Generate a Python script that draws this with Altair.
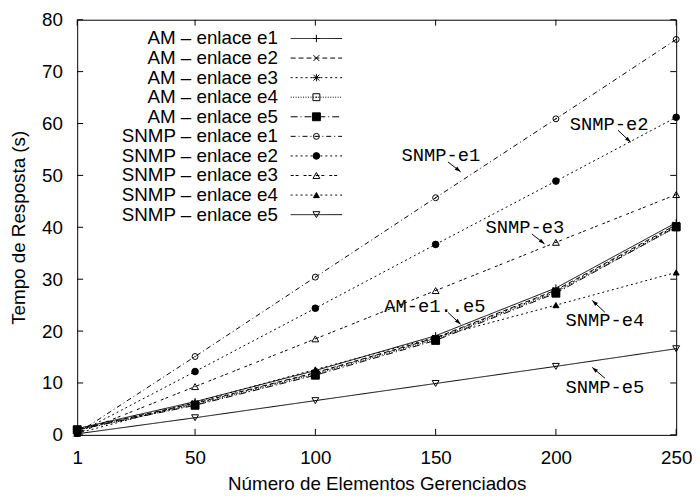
import math
import altair as alt
import pandas as pd

# ---------------- data ----------------
x_values = [1, 50, 100, 150, 200, 250]

series_names = [
    "AM – enlace e1", "AM – enlace e2", "AM – enlace e3", "AM – enlace e4", "AM – enlace e5",
    "SNMP – enlace e1", "SNMP – enlace e2", "SNMP – enlace e3", "SNMP – enlace e4", "SNMP – enlace e5",
]
am_e1 = [1.2, 6.4, 12.4, 19.1, 28.3, 40.9]
am_e2 = [1.1, 6.1, 12.0, 18.7, 27.9, 40.5]
am_e3 = [1.0, 6.0, 11.9, 18.6, 27.7, 40.3]
am_e4 = [0.9, 5.8, 11.7, 18.4, 27.5, 40.0]
am_e5 = [1.0, 5.7, 11.5, 18.2, 27.3, 40.1]
snmp_e1 = [0.3, 15.1, 30.4, 45.7, 60.9, 76.2]
snmp_e2 = [0.3, 12.2, 24.4, 36.7, 48.9, 61.2]
snmp_e3 = [0.3, 9.3, 18.5, 27.8, 37.1, 46.3]
snmp_e4 = [0.3, 6.3, 12.6, 18.8, 25.0, 31.3]
snmp_e5 = [0.2, 3.3, 6.6, 9.9, 13.2, 16.6]
series_values = [am_e1, am_e2, am_e3, am_e4, am_e5, snmp_e1, snmp_e2, snmp_e3, snmp_e4, snmp_e5]

y_ticks = [0, 10, 20, 30, 40, 50, 60, 70, 80]

# annotations (data coordinates)
note_texts = ["SNMP-e1", "SNMP-e2", "SNMP-e3", "AM-e1..e5", "SNMP-e4", "SNMP-e5"]
note_x = [152.2, 222.1, 187.1, 149.7, 220.4, 220.4]
note_y = [53.9, 59.8, 40.0, 24.8, 22.1, 9.3]
arrow_x1 = [155.1, 225.8, 190.0, 155.1, 220.4, 220.4]
arrow_y1 = [52.6, 58.7, 38.7, 23.6, 23.6, 10.9]
arrow_x2 = [160.4, 231.1, 195.3, 160.4, 215.1, 215.1]
arrow_y2 = [50.7, 56.4, 36.8, 21.3, 25.9, 13.0]

# ---------------- layout / style ----------------
W, H = 606, 420
XD = [1, 250]
YD = [0, 80]
xs = alt.Scale(domain=XD, nice=False, zero=False)
ys = alt.Scale(domain=YD, nice=False, zero=False)
SANS = "Liberation Sans"
MONO = "Liberation Mono"
FS = 19

XA = alt.Axis(
    values=x_values, title="Número de Elementos Gerenciados", ticks=False, domain=False,
    grid=False, labelPadding=14, titlePadding=7, labelFontSize=FS, titleFontSize=FS,
    labelFont=SANS, titleFont=SANS, titleFontWeight="normal", labelColor="black",
    titleColor="black", labelFlush=False)
YA = alt.Axis(
    values=y_ticks, title="Tempo de Resposta (s)", ticks=False, domain=False,
    grid=False, labelPadding=15, titlePadding=13, labelFontSize=FS, titleFontSize=FS,
    labelFont=SANS, titleFont=SANS, titleFontWeight="normal", labelColor="black",
    titleColor="black", labelFlush=False)


def X(field):
    return alt.X(field, scale=xs, axis=XA)


def Y(field):
    return alt.Y(field, scale=ys, axis=YA)


def px_x(px):
    return XD[0] + px / W * (XD[1] - XD[0])


def px_y(py):
    return YD[1] - py / H * (YD[1] - YD[0])


PLUS = "M-1,0L1,0M0,-1L0,1"
CROSS = "M-0.8,-0.8L0.8,0.8M-0.8,0.8L0.8,-0.8"
STAR = PLUS + CROSS
styles = [
    dict(dash=[1, 0], shape=PLUS, fill=False, size=55),
    dict(dash=[5, 3], shape=CROSS, fill=False, size=55),
    dict(dash=[2, 3], shape=STAR, fill=False, size=55),
    dict(dash=[1, 1.5], shape="square", fill=False, size=49, dot=True),
    dict(dash=[7, 3, 1, 3], shape="square", fill=True, size=64),
    dict(dash=[5, 3, 1, 3], shape="circle", fill=False, size=36, dot=True),
    dict(dash=[2, 3], shape="circle", fill=True, size=45),
    dict(dash=[3, 2, 3, 5], shape="triangle-up", fill=False, size=48, dot=True),
    dict(dash=[2, 3], shape="triangle-up", fill=True, size=36),
    dict(dash=[1, 0], shape="triangle-down", fill=False, size=48, dot=True),
]

layers = []

# inward ticks on all four sides
xt = pd.DataFrame({"x": x_values})
yt = pd.DataFrame({"y": y_ticks})
TL = 6
layers.append(alt.Chart(xt).mark_rule(color="black", strokeWidth=1).encode(
    x=X("x:Q"), y=alt.value(H), y2=alt.value(H - TL)))
layers.append(alt.Chart(xt).mark_rule(color="black", strokeWidth=1).encode(
    x=X("x:Q"), y=alt.value(0), y2=alt.value(TL)))
layers.append(alt.Chart(yt).mark_rule(color="black", strokeWidth=1).encode(
    y=Y("y:Q"), x=alt.value(0), x2=alt.value(TL)))
layers.append(alt.Chart(yt).mark_rule(color="black", strokeWidth=1).encode(
    y=Y("y:Q"), x=alt.value(W), x2=alt.value(W - TL)))


def point_layer(df, st):
    filled = st["fill"]
    mk = alt.Chart(df).mark_point(
        shape=st["shape"], size=st["size"], filled=filled, opacity=1,
        stroke="black", strokeWidth=1, fill="black" if filled else "transparent")
    out = [mk.encode(x=X("x:Q"), y=Y("y:Q"))]
    if st.get("dot"):
        out.append(alt.Chart(df).mark_point(shape="circle", size=2, filled=True, opacity=1,
                                            color="black").encode(x=X("x:Q"), y=Y("y:Q")))
    return out


# data series
for name, vals, st in zip(series_names, series_values, styles):
    df = pd.DataFrame({"x": x_values, "y": vals})
    layers.append(alt.Chart(df).mark_line(color="black", strokeWidth=1, strokeDash=st["dash"]).encode(
        x=X("x:Q"), y=Y("y:Q")))
    layers.extend(point_layer(df, st))

# legend (top-left, gnuplot style: label on the left, sample on the right)
LEG_TOP = 19
LEG_STEP = 19.8
LEG_TEXT_X = 203
LEG_L0, LEG_L1, LEG_M = 216, 268, 242
leg_rows = []
for i, (name, st) in enumerate(zip(series_names, styles)):
    yy = px_y(LEG_TOP + LEG_STEP * i)
    leg_rows.append({"name": name, "y": yy})
    ldf = pd.DataFrame({"x": [px_x(LEG_L0)], "x2": [px_x(LEG_L1)], "y": [yy]})
    layers.append(alt.Chart(ldf).mark_rule(color="black", strokeWidth=1, strokeDash=st["dash"]).encode(
        x=X("x:Q"), x2="x2:Q", y=Y("y:Q")))
    layers.extend(point_layer(pd.DataFrame({"x": [px_x(LEG_M)], "y": [yy]}), st))
leg_df = pd.DataFrame(leg_rows)
leg_df["x"] = px_x(LEG_TEXT_X)
layers.append(alt.Chart(leg_df).mark_text(align="right", baseline="middle", font=SANS,
                                          fontSize=FS, color="black").encode(
    x=X("x:Q"), y=Y("y:Q"), text="name:N"))

# annotations
notes = pd.DataFrame({"t": note_texts, "x": note_x, "y": note_y})
layers.append(alt.Chart(notes).mark_text(align="center", baseline="middle", font=MONO,
                                         fontSize=FS, color="black").encode(
    x=X("x:Q"), y=Y("y:Q"), text="t:N"))
arr = pd.DataFrame({"x": arrow_x1, "y": arrow_y1, "x2": arrow_x2, "y2": arrow_y2})
layers.append(alt.Chart(arr).mark_rule(color="black", strokeWidth=1).encode(
    x=X("x:Q"), y=Y("y:Q"), x2="x2:Q", y2="y2:Q"))
HEAD = "M0,0L0.67,2L-0.67,2Z"
for x1, y1, x2, y2 in zip(arrow_x1, arrow_y1, arrow_x2, arrow_y2):
    dx = (x2 - x1) / (XD[1] - XD[0]) * W
    dy = -(y2 - y1) / (YD[1] - YD[0]) * H
    ang = math.degrees(math.atan2(dx, -dy)) % 360
    layers.append(alt.Chart(pd.DataFrame({"x": [x2], "y": [y2]})).mark_point(
        shape=HEAD, size=36, filled=True, opacity=1, color="black", angle=ang).encode(
        x=X("x:Q"), y=Y("y:Q")))

chart = alt.layer(*layers).properties(
    width=W, height=H, autosize="none",
    padding={"left": 70, "top": 9, "right": 16, "bottom": 60},
    background="white",
).configure_view(stroke="black", strokeWidth=1)

chart.save("out.html", embed_options={"renderer": "svg", "actions": False})
